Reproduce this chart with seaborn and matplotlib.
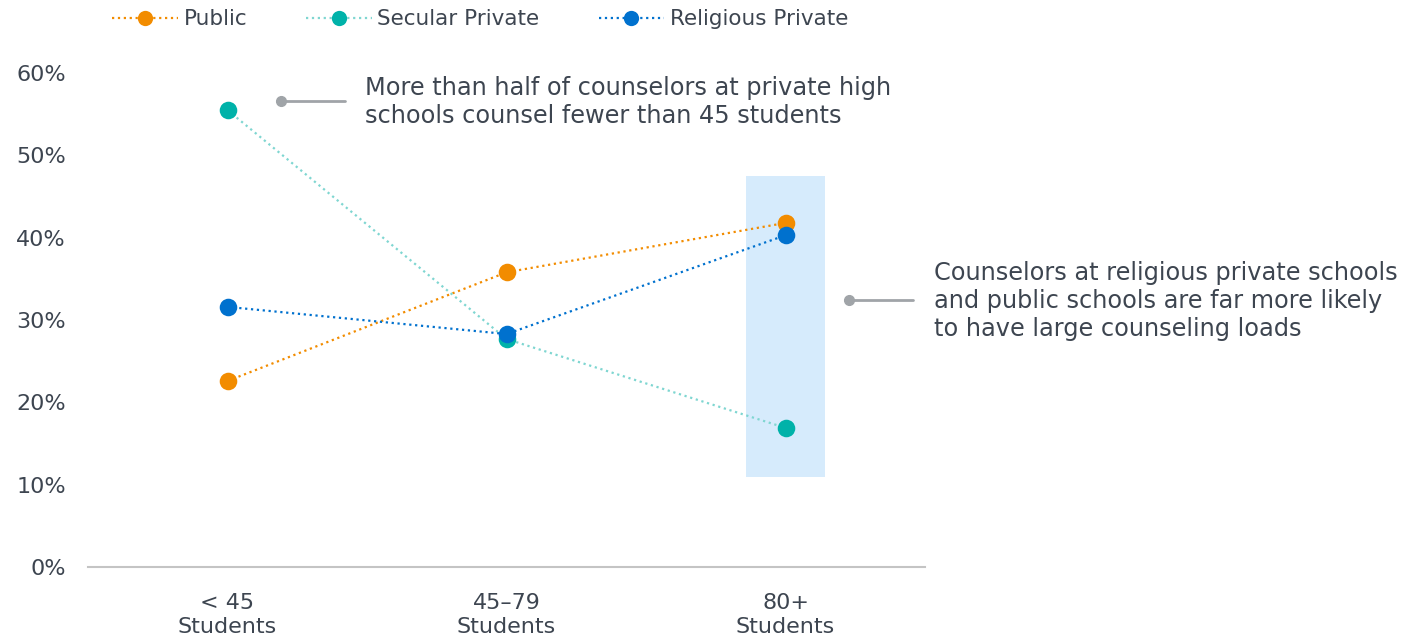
import matplotlib
matplotlib.use("Agg")
import matplotlib.pyplot as plt
import matplotlib.ticker as ticker
import numpy as np
import pandas as pd
import seaborn as sns

# data
categories = ["< 45\nStudents", "45\u201379\nStudents", "80+\nStudents"]
public = [0.226, 0.358, 0.418]
secular_private = [0.555, 0.277, 0.169]
religious_private = [0.316, 0.283, 0.403]
series_names = ["Public", "Secular Private", "Religious Private"]

colors = {"Public": "#F28C00", "Secular Private": "#00B2A9", "Religious Private": "#0071CE"}
line_colors = {"Public": "#F28C00", "Secular Private": "#7FD6D1", "Religious Private": "#0071CE"}
text_col = "#3D4550"
grey = "#A0A4A8"

d = pd.DataFrame({
    "cat": categories * 3,
    "share": public + secular_private + religious_private,
    "series": [s for s in series_names for _ in categories],
})

sns.set_style("white")
plt.rcParams["font.family"] = ["DejaVu Sans"]

fig = plt.figure(figsize=(14.22, 6.42), dpi=100)
ax = fig.add_axes([0.0619, 0.1168, 0.5886, 0.795])

# highlight band behind the 80+ column
ax.axvspan(1.86, 2.14, ymin=0.109 / 0.62, ymax=0.475 / 0.62, color="#D6EBFC", zorder=0, lw=0)

for name in series_names:
    sub = d[d["series"] == name]
    sns.lineplot(data=sub, x="cat", y="share", ax=ax, sort=False,
                 color=line_colors[name], linestyle=":", lw=1.6, zorder=2)
    sns.scatterplot(data=sub, x="cat", y="share", ax=ax, color=colors[name],
                    s=160, linewidth=0, zorder=3)

ax.set_xlim(-0.5, 2.5)
ax.set_ylim(0, 0.62)
ax.set_yticks(np.arange(0, 0.61, 0.1))
ax.yaxis.set_major_formatter(ticker.FuncFormatter(lambda v, p: f"{v*100:.0f}%"))
ax.set_xlabel("")
ax.set_ylabel("")
for s in ["top", "right", "left"]:
    ax.spines[s].set_visible(False)
ax.spines["bottom"].set_color("#C4C4C4")
ax.spines["bottom"].set_linewidth(1.5)
ax.tick_params(axis="y", length=0, pad=16, labelsize=16, labelcolor=text_col)
ax.tick_params(axis="x", length=0, pad=19, labelsize=16, labelcolor=text_col)
for lab in ax.get_xticklabels():
    lab.set_linespacing(1.25)

# legend on top
handles = [plt.Line2D([], [], color=line_colors[n], linestyle=":", lw=1.6, marker="o",
                      markersize=11, markerfacecolor=colors[n], markeredgewidth=0)
           for n in series_names]
fig.legend(handles, series_names, loc="center left", bbox_to_anchor=(0.079, 0.97),
           ncol=3, frameon=False, fontsize=15.5, handlelength=3.05, handletextpad=0.25,
           columnspacing=2.75, labelcolor=text_col, numpoints=1, borderaxespad=0, borderpad=0)

# callouts
ax.plot([0.192, 0.421], [0.566, 0.566], color=grey, lw=2, clip_on=False)
ax.plot([0.192], [0.566], "o", color=grey, ms=7, clip_on=False)
ax.text(0.493, 0.565, "More than half of counselors at private high\nschools counsel fewer than 45 students",
        fontsize=17.3, color=text_col, va="center", ha="left", linespacing=1.24)

ax.plot([2.228, 2.457], [0.324, 0.324], color=grey, lw=2, clip_on=False)
ax.plot([2.228], [0.324], "o", color=grey, ms=7, clip_on=False)
ax.text(2.532, 0.323, "Counselors at religious private schools\nand public schools are far more likely\nto have large counseling loads",
        fontsize=17.3, color=text_col, va="center", ha="left", linespacing=1.23, clip_on=False)

fig.savefig("out.png", dpi=100)
